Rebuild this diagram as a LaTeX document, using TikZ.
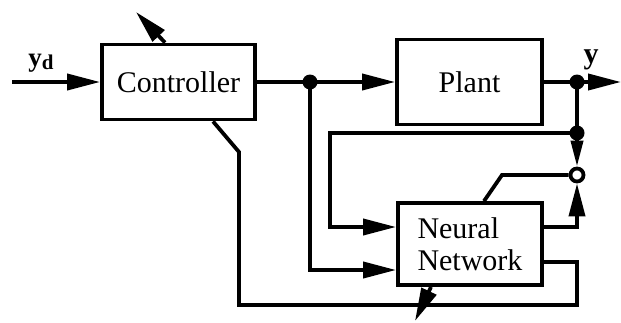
\documentclass[tikz,border=0pt]{standalone}
\usepackage{fontspec}
\setmainfont{Liberation Serif}
\usetikzlibrary{positioning, arrows.meta}

\begin{document}
\begin{tikzpicture}[x=1pt, y=-1pt, line width=3.8pt,
		>={Triangle[length=33pt, width=16pt]},
		block/.style={draw, inner sep=0pt},
		font=\fontsize{30}{32}\selectfont]
		\useasboundingbox (0,0) rectangle (621,322);

		\node[block, minimum width=153pt, minimum height=75pt] (controller)
			at (178.5,82) {Controller};
		\node[block, minimum width=145pt, minimum height=85pt] (plant)
			at (469.5,82) {Plant};
		\node[block, minimum width=144pt, minimum height=82pt, align=left] (network)
			at (470,244) {Neural\\Network};
		\node[circle, draw, fill=white, minimum size=13pt, inner sep=0pt] (sum)
			at (577,175) {};

		\coordinate (input) at (12,82);
		\coordinate (split) at (310,82);
		\coordinate (ydot) at (577,82);
		\coordinate (output) at (621,82);
		\coordinate (fbdot) at (577,133);
		\coordinate (fbleft) at (330,133);
		\coordinate (nnin1) at (330,227);
		\coordinate (nnin2) at (310,270);
		\coordinate (nnout1) at (577,227);
		\coordinate (nnout2) at (577,262);
		\coordinate (botright) at (577,305);
		\coordinate (botleft) at (239,305);
		\coordinate (bend) at (239,152);
		\coordinate (errleft) at (502,175);

		% adaptation arrows cutting across the two boxes
		\coordinate (ctrl-in) at ([xshift=34.5pt]controller.south);
		\coordinate (ctrl-out) at ([xshift=-13.5pt]controller.north);
		\coordinate (ctrl-tip) at (136,12);
		\coordinate (nn-in) at ([xshift=14pt]network.north);
		\coordinate (nn-out) at ([xshift=-39pt]network.south);
		\coordinate (nn-tip) at (415,321);

		\node[font=\fontsize{27}{28}\selectfont\bfseries] (yd-label)
			at (41,63) {y\raisebox{-3pt}{\fontsize{21}{22}\selectfont d}};
		\node[anchor=base, font=\fontsize{30}{32}\selectfont\bfseries] (y-label)
			at (591,63.5) {y};

		\draw[->] (input) -- (controller.west);
		\draw (controller.east) -- (split);
		\draw[->] (split) -- (plant.west);
		\draw (plant.east) -- (ydot);
		\draw[->] (ydot) -- (output);
		\draw (ydot) -- (fbdot);
		\draw[-{Triangle[length=26pt, width=12pt]}] (fbdot) -- (sum.north);
		\draw[->] (fbdot) -- (fbleft) -- (nnin1) -- (network.west |- nnin1);
		\draw[->] (split) -- (nnin2) -- (network.west |- nnin2);
		\draw[->] (network.east |- nnout1) -- (nnout1) -- (sum.south);
		\draw (network.east |- nnout2) -- (nnout2) -- (botright)
			-- (botleft) -- (bend) -- (ctrl-in);
		\draw[->] (ctrl-out) -- (ctrl-tip);
		\draw (sum.west) -- (errleft) -- (nn-in);
		\draw[->] (nn-out) -- (nn-tip);

		\foreach \p in {split, ydot, fbdot}
			\fill (\p) circle (7.5pt);
	\end{tikzpicture}
\end{document}
